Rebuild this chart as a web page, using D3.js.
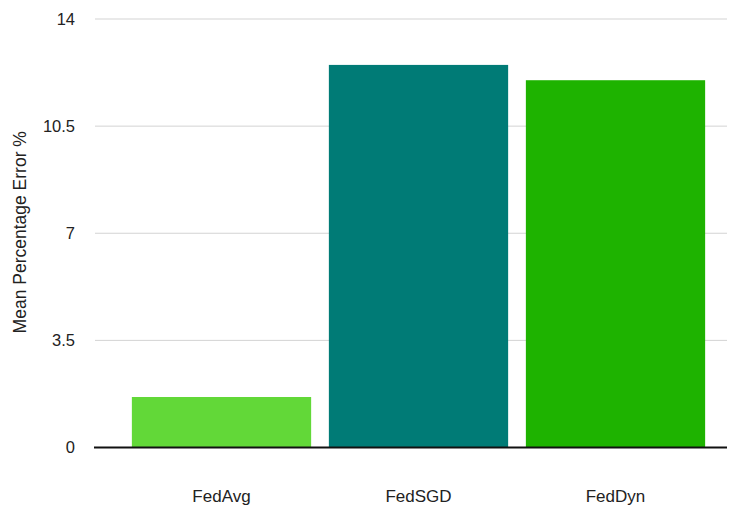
<!DOCTYPE html>
<html>
<head>
<meta charset="utf-8">
<script src="https://cdn.jsdelivr.net/npm/d3@7"></script>
<style>
  html, body { margin: 0; padding: 0; background: #fff; }
  svg { display: block; font-family: "Liberation Sans", Arial, Helvetica, sans-serif; }
</style>
</head>
<body>
<svg id="chart" width="732" height="506"></svg>
<script>
// Mean percentage error per federated learning algorithm
const categories = ["FedAvg", "FedSGD", "FedDyn"];
const errorValues = [1.65, 12.5, 12.0];
const barColors = ["#62d838", "#007b76", "#1eb300"];
const yTicks = [0, 3.5, 7, 10.5, 14];
const yTickLabels = ["0", "3.5", "7", "10.5", "14"];

const svg = d3.select("#chart");
const plot = { left: 95, right: 727, top: 19, bottom: 447.5 };

const y = d3.scaleLinear().domain([0, 14]).range([plot.bottom, plot.top]);
const x = d3.scaleBand()
  .domain(categories)
  .range([123, 714])
  .paddingInner(0.09)
  .paddingOuter(0.045);

// horizontal gridlines
svg.append("g")
  .selectAll("line")
  .data(yTicks.filter(t => t !== 0))
  .join("line")
  .attr("x1", plot.left)
  .attr("x2", plot.right)
  .attr("y1", d => y(d))
  .attr("y2", d => y(d))
  .attr("stroke", "#d3d3d3")
  .attr("stroke-width", 1);

// y tick labels
svg.append("g")
  .selectAll("text")
  .data(yTicks)
  .join("text")
  .attr("x", 75)
  .attr("y", d => y(d))
  .attr("dy", "0.35em")
  .attr("text-anchor", "end")
  .attr("font-size", 16.5)
  .attr("fill", "#222")
  .text((d, i) => yTickLabels[i]);

// bars
svg.append("g")
  .selectAll("rect")
  .data(categories)
  .join("rect")
  .attr("x", d => x(d))
  .attr("width", x.bandwidth())
  .attr("y", (d, i) => y(errorValues[i]))
  .attr("height", (d, i) => y(0) - y(errorValues[i]))
  .attr("fill", (d, i) => barColors[i]);

// baseline
svg.append("line")
  .attr("x1", 94)
  .attr("x2", plot.right)
  .attr("y1", y(0))
  .attr("y2", y(0))
  .attr("stroke", "#111")
  .attr("stroke-width", 2);

// category labels
svg.append("g")
  .selectAll("text")
  .data(categories)
  .join("text")
  .attr("x", d => x(d) + x.bandwidth() / 2)
  .attr("y", 502)
  .attr("text-anchor", "middle")
  .attr("font-size", 17)
  .attr("fill", "#222")
  .text(d => d);

// y axis title
svg.append("text")
  .attr("transform", `translate(26, ${(plot.top + plot.bottom) / 2 - 1}) rotate(-90)`)
  .attr("text-anchor", "middle")
  .attr("font-size", 17.5)
  .attr("fill", "#222")
  .text("Mean Percentage Error %");
</script>
</body>
</html>
